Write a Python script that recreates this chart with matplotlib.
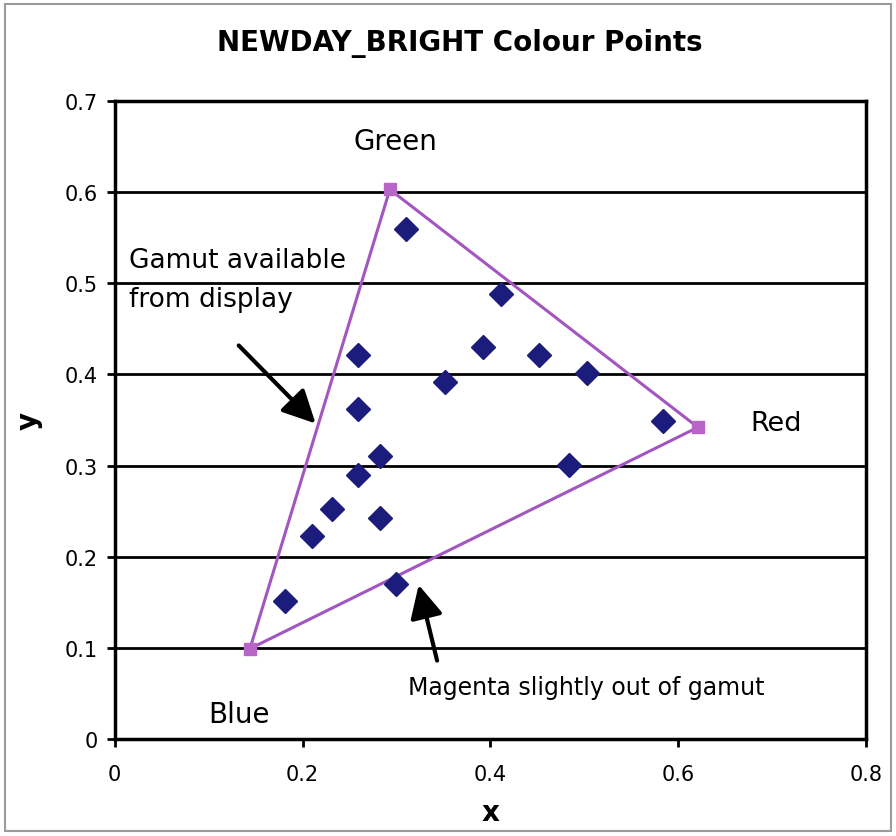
import matplotlib
matplotlib.use("Agg")
import matplotlib.pyplot as plt
from matplotlib.patches import Rectangle

# ─── DATA ────────────────────────────────────────────────────
# display primaries (gamut triangle), closed loop G -> R -> B -> G
gamut_names = ["Green", "Red", "Blue"]
gamut_x = [0.293, 0.621, 0.144]
gamut_y = [0.603, 0.342, 0.099]

# measured colour points
point_x = [0.310, 0.411, 0.392, 0.452, 0.503, 0.352, 0.259, 0.259, 0.584,
           0.282, 0.259, 0.484, 0.231, 0.210, 0.282, 0.181, 0.300]
point_y = [0.560, 0.488, 0.430, 0.421, 0.402, 0.392, 0.421, 0.362, 0.349,
           0.311, 0.290, 0.301, 0.252, 0.223, 0.243, 0.151, 0.170]

x_ticks = [0, 0.2, 0.4, 0.6, 0.8]
x_labels = ["0", "0.2", "0.4", "0.6", "0.8"]
y_ticks = [0, 0.1, 0.2, 0.3, 0.4, 0.5, 0.6, 0.7]
y_labels = ["0", "0.1", "0.2", "0.3", "0.4", "0.5", "0.6", "0.7"]

# ─── STYLE ───────────────────────────────────────────────────
plt.rcParams["font.family"] = ["DejaVu Sans"]
LINE_COL   = "#a355c0"
SQUARE_COL = "#b865c8"
POINT_COL  = "#1c1c7c"
ARROW = dict(arrowstyle="-|>,head_length=1.0,head_width=0.5",
             mutation_scale=20, color="black", linewidth=3)

fig = plt.figure(figsize=(8.96, 8.37), dpi=100)
ax = fig.add_axes([0.128, 0.116, 0.8385, 0.762])

# outer chart frame
fig.patches.append(Rectangle((0.006, 0.006), 0.988, 0.988, transform=fig.transFigure,
                             fill=False, edgecolor="#9a9a9a", linewidth=1.5))

# ─── PLOT ────────────────────────────────────────────────────
tri_x = gamut_x + gamut_x[:1]
tri_y = gamut_y + gamut_y[:1]
ax.plot(tri_x, tri_y, color=LINE_COL, linewidth=2.2, zorder=3)
ax.plot(gamut_x, gamut_y, linestyle="none", marker="s", markersize=9,
        color=SQUARE_COL, zorder=4)
ax.plot(point_x, point_y, linestyle="none", marker="D", markersize=12,
        color=POINT_COL, zorder=5)

ax.set_xlim(0, 0.8)
ax.set_ylim(0, 0.7)
ax.set_xticks(x_ticks)
ax.set_xticklabels(x_labels)
ax.set_yticks(y_ticks)
ax.set_yticklabels(y_labels)
ax.tick_params(axis="x", labelsize=15, length=6, width=2, pad=12)
ax.tick_params(axis="y", labelsize=15, length=6, width=2, pad=6)
ax.yaxis.grid(True, color="black", linewidth=2)
ax.set_axisbelow(True)
for s in ax.spines.values():
    s.set_linewidth(2.5)

ax.set_xlabel("x", fontsize=20, fontweight="bold", labelpad=10)
ax.set_ylabel("y", fontsize=20, fontweight="bold", labelpad=16)
fig.text(0.513, 0.948, "NEWDAY_BRIGHT Colour Points", fontsize=20,
         fontweight="bold", ha="center", va="center")

# vertex labels
ax.text(0.299, 0.656, gamut_names[0], fontsize=20, ha="center", va="center")
ax.text(0.704, 0.347, gamut_names[1], fontsize=19.5, ha="center", va="center")
ax.text(0.132, 0.027, gamut_names[2], fontsize=20, ha="center", va="center")

# annotations
ax.text(0.015, 0.540, "Gamut available\nfrom display", fontsize=19,
        ha="left", va="top", linespacing=1.65)
ax.annotate("", xy=(0.216, 0.344), xytext=(0.130, 0.434), arrowprops=ARROW)
ax.text(0.312, 0.057, "Magenta slightly out of gamut", fontsize=17,
        ha="left", va="center")
ax.annotate("", xy=(0.323, 0.172), xytext=(0.344, 0.083), arrowprops=ARROW)

fig.savefig("out.png", dpi=100)
